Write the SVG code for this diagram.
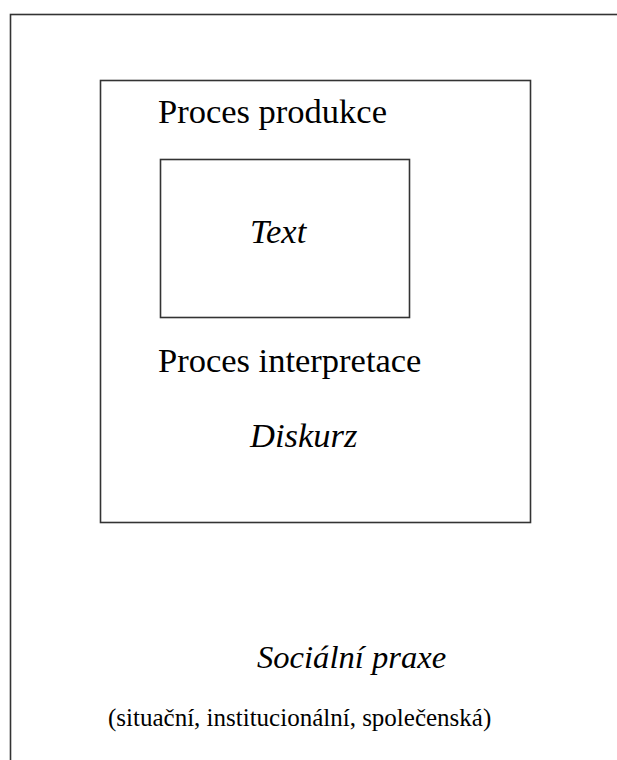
<svg xmlns="http://www.w3.org/2000/svg" width="617" height="760" viewBox="0 0 617 760">
<style>
.box{fill:none;stroke:#333;stroke-width:1.6}
.t{font-family:"Liberation Serif","Times New Roman",serif;fill:#000}
.r{font-size:34.5px}
.i{font-size:34.5px;font-style:italic}
</style>
<rect width="617" height="760" fill="#fff"/>
<g id="socialni-praxe">
<rect class="box" x="10.5" y="14.5" width="620" height="760"/>
<text class="t i" x="257" y="668" style="font-size:32.6px">Sociální praxe</text>
<text class="t r" x="108" y="726" style="font-size:25px">(situační, institucionální, společenská)</text>
</g>
<g id="diskurz">
<rect class="box" x="100.5" y="80.5" width="430" height="442"/>
<text class="t r" x="158" y="123">Proces produkce</text>
<text class="t r" x="158" y="372">Proces interpretace</text>
<text class="t i" x="250" y="447">Diskurz</text>
</g>
<g id="text">
<rect class="box" x="160.5" y="159.5" width="249" height="158"/>
<text class="t i" x="250" y="243">Text</text>
</g>
<g id="connectors"/>
</svg>
